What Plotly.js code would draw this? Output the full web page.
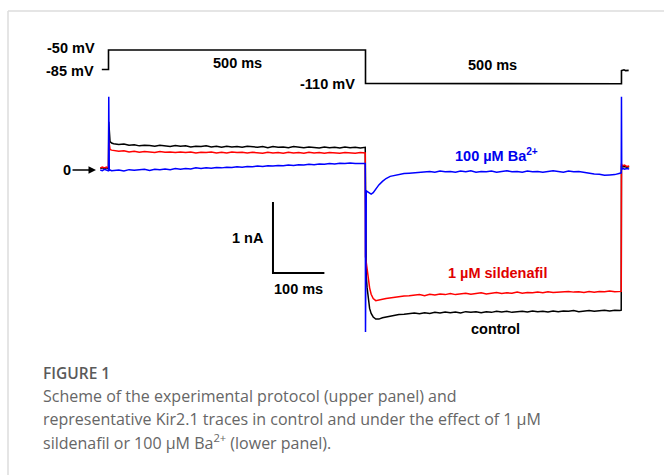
<!DOCTYPE html>
<html>
<head>
<meta charset="utf-8">
<script src="https://cdn.plot.ly/plotly-3.0.1.min.js"></script>
<style>
html,body{margin:0;padding:0;background:#fff;}
#chart{width:664px;height:475px;}
</style>
</head>
<body>
<div id="chart"></div>
<script>
// ---------- DATA ----------
// Common time base for the current traces (ms)
const timeMs = [
  -16, -12, -8, -4, -0.5,
  0, 0.5, 1.5, 3, 6,
  10, 20, 30, 40, 50, 60, 70,
  80, 90, 100, 110, 120, 130, 140,
  150, 160, 170, 180, 190, 200, 210,
  220, 230, 240, 250, 260, 270, 280,
  290, 300, 310, 320, 330, 340, 350,
  360, 370, 380, 390, 400, 410, 420,
  430, 440, 450, 460, 470, 480, 490,
  499.5,
  500, 500.5, 501.5, 503, 505, 508, 511, 515, 520, 526, 533, 540, 548, 556, 565, 575, 585,
  595, 605, 615, 625, 635, 645, 655,
  665, 675, 685, 695, 705, 715, 725,
  735, 745, 755, 765, 775, 785, 795,
  805, 815, 825, 835, 845, 855, 865,
  875, 885, 895, 905, 915, 925, 935,
  945, 955, 965, 975, 985, 995,
  997.5, 998, 998.5, 1001, 1004, 1008, 1013
];
// control current (nA)
const controlNA = [
  0.02, 0.03, 0.02, 0.03, 0.02,
  0.03, 0.68, 0.45, 0.40, 0.38,
  0.37, 0.36, 0.365, 0.35, 0.355, 0.34, 0.35,
  0.345, 0.335, 0.35, 0.34, 0.33, 0.345, 0.335,
  0.34, 0.325, 0.335, 0.33, 0.34, 0.325, 0.335,
  0.32, 0.335, 0.325, 0.33, 0.32, 0.335, 0.325,
  0.32, 0.33, 0.315, 0.33, 0.32, 0.325, 0.315,
  0.33, 0.32, 0.315, 0.325, 0.32, 0.31, 0.325,
  0.315, 0.32, 0.31, 0.325, 0.315, 0.32, 0.31,
  0.32,
  -1.30, -1.38, -1.50, -1.65, -1.80, -1.95, -2.02, -2.07, -2.10, -2.10, -2.08, -2.07, -2.06, -2.045, -2.035, -2.03, -2.02,
  -2.015, -2.025, -2.01, -2.02, -2.005, -2.015, -2.0,
  -2.01, -2.0, -2.015, -1.995, -2.005, -1.995, -2.01,
  -1.995, -2.005, -1.99, -2.0, -1.99, -2.005, -1.995,
  -1.99, -2.0, -1.985, -1.995, -1.99, -2.0, -1.985,
  -1.995, -1.985, -1.99, -1.98, -1.995, -1.985, -1.98,
  -1.99, -1.98, -1.975, -1.985, -1.975, -1.98,
  -1.975, 0.06, 0.05, 0.045, 0.05, 0.04, 0.045
];
// 1 µM sildenafil current (nA)
const sildenafilNA = [
  0.03, 0.04, 0.03, 0.04, 0.03,
  0.04, 0.42, 0.31, 0.29, 0.28,
  0.275, 0.265, 0.27, 0.255, 0.265, 0.25, 0.26,
  0.255, 0.245, 0.26, 0.25, 0.255, 0.245, 0.255,
  0.245, 0.255, 0.24, 0.25, 0.245, 0.255, 0.24,
  0.25, 0.24, 0.255, 0.245, 0.25, 0.24, 0.25,
  0.245, 0.235, 0.25, 0.24, 0.245, 0.235, 0.25,
  0.24, 0.245, 0.235, 0.25, 0.24, 0.245, 0.235,
  0.245, 0.24, 0.235, 0.245, 0.24, 0.235, 0.245,
  0.24,
  -1.22, -1.25, -1.32, -1.42, -1.52, -1.66, -1.75, -1.81, -1.84, -1.835, -1.82, -1.81, -1.80, -1.79, -1.785, -1.775, -1.77,
  -1.765, -1.755, -1.77, -1.75, -1.76, -1.745, -1.755,
  -1.74, -1.755, -1.745, -1.735, -1.75, -1.74, -1.73,
  -1.745, -1.735, -1.725, -1.74, -1.73, -1.735, -1.72,
  -1.735, -1.725, -1.73, -1.72, -1.73, -1.715, -1.725,
  -1.72, -1.725, -1.71, -1.72, -1.715, -1.725, -1.71,
  -1.72, -1.71, -1.715, -1.705, -1.715, -1.705,
  -1.71, 0.09, 0.07, 0.06, 0.07, 0.05, 0.055
];
// 100 µM Ba2+ current (nA)
const bariumNA = [
  0.00, -0.01, 0.01, 0.00, -0.01,
  0.00, 1.03, -0.01, 0.00, -0.01,
  -0.01, 0.00, -0.015, 0.005, -0.005, 0.00, 0.01,
  -0.005, 0.01, 0.005, 0.015, 0.005, 0.02, 0.01,
  0.02, 0.015, 0.03, 0.02, 0.03, 0.025, 0.035,
  0.03, 0.04, 0.035, 0.045, 0.04, 0.05, 0.045,
  0.055, 0.05, 0.06, 0.055, 0.065, 0.06, 0.07,
  0.065, 0.075, 0.07, 0.08, 0.075, 0.085, 0.08,
  0.09, 0.085, 0.095, 0.09, 0.10, 0.09, 0.095,
  0.09,
  -2.28, -0.40, -0.29, -0.30, -0.31, -0.33, -0.34, -0.32, -0.27, -0.21, -0.16, -0.12, -0.09, -0.075, -0.06, -0.05, -0.045,
  -0.04, -0.03, -0.035, -0.02, -0.03, -0.015, -0.025,
  -0.02, -0.03, -0.015, -0.025, -0.01, -0.03, -0.02,
  -0.025, -0.015, -0.03, -0.02, -0.01, -0.025, -0.02,
  -0.03, -0.015, -0.025, -0.02, -0.03, -0.02, -0.01,
  -0.02, -0.03, -0.015, -0.025, -0.02, -0.035, -0.045,
  -0.055, -0.06, -0.075, -0.07, -0.065, -0.045,
  -0.04, 1.03, 0.01, 0.02, 0.01, 0.02, 0.015
];
// Voltage protocol
const protocolMs = [-13, -6, 0, 0, 100, 200, 300, 400, 500, 500, 600, 700, 800, 900, 980, 998, 998, 1001, 1003, 1006, 1012];
const protocolMV = [-85, -85, -85, -50, -50, -50, -50, -50, -50, -110, -110, -110, -110, -110, -110.5, -110.5, -87, -86, -85.5, -87, -86.5];
// Scale bar values
const scaleBarMs = 100;
const scaleBarNA = 1;
// Text
const voltageLabels = ['-50 mV', '-85 mV', '-110 mV'];
const durationLabels = ['500 ms', '500 ms'];
const seriesLabels = ['control', '1 µM sildenafil', '100 µM Ba<sup>2+</sup>'];
const captionTitle = 'FIGURE 1';
const captionLines = [
  'Scheme of the experimental protocol (upper panel) and',
  'representative Kir2.1 traces in control and under the effect of 1 µM',
  'sildenafil or 100 µM Ba<sup>2+</sup> (lower panel).'
];

// ---------- LAYOUT ----------
const W = 664, H = 475;
const pxPerMs = 0.514, t0px = 108.5;          // time axis
const zeroPx = 170, pxPerNA = 71;             // current axis
const vRefPx = 50, pxPerMV = 0.5583;          // voltage axis (-50 mV at vRefPx)
const xRange = [-t0px / pxPerMs, (W - t0px) / pxPerMs];
const yRange = [-(H - zeroPx) / pxPerNA, zeroPx / pxPerNA];
const y2Range = [-50 - (H - vRefPx) / pxPerMV, -50 + vRefPx / pxPerMV];

function P(px, py) { return {x: px / W, y: 1 - py / H}; }
const bold = 'Liberation Sans, Arial, sans-serif';
function lab(text, px, py, color, xanchor, size) {
  const p = P(px, py);
  return {text: '<b>' + text + '</b>', x: p.x, y: p.y, xref: 'paper', yref: 'paper',
    showarrow: false, xanchor: xanchor || 'center', yanchor: 'middle',
    font: {family: bold, size: size || 14.5, color: color || '#000'}};
}
const capFont = 'Open Sans, Noto Sans, sans-serif';
function cap(text, py, opts) {
  const p = P(41, py);
  return Object.assign({text: text, x: p.x, y: p.y, xref: 'paper', yref: 'paper',
    showarrow: false, xanchor: 'left', yanchor: 'middle',
    font: {family: capFont, size: 16, color: '#666'}}, opts || {});
}

const sbT = 320, sbI = -1.45;
const traces = [
  {x: protocolMs, y: protocolMV, yaxis: 'y2', mode: 'lines', line: {color: '#000', width: 1.6}},
  {x: timeMs, y: controlNA, mode: 'lines', line: {color: '#000', width: 1.5}},
  {x: timeMs, y: sildenafilNA, mode: 'lines', line: {color: '#ff0000', width: 1.5}},
  {x: timeMs, y: bariumNA, mode: 'lines', line: {color: '#0000ff', width: 1.5}},
  {x: [sbT, sbT, sbT + scaleBarMs], y: [sbI + scaleBarNA, sbI, sbI], mode: 'lines', line: {color: '#000', width: 2}}
];

const arrowHead = P(96, 170);
const annotations = [
  lab(voltageLabels[0], 97, 48, '#000', 'right'),
  lab(voltageLabels[1], 96, 71, '#000', 'right'),
  lab(voltageLabels[2], 357, 84, '#000', 'right'),
  lab(durationLabels[0], 237, 63),
  lab(durationLabels[1], 492, 65),
  {text: '<b>0</b>', x: arrowHead.x, y: arrowHead.y, xref: 'paper', yref: 'paper', showarrow: true,
    ax: -29, ay: 0, arrowhead: 2, arrowsize: 1, arrowwidth: 1.5, arrowcolor: '#000',
    font: {family: bold, size: 14.5, color: '#000'}},
  lab(seriesLabels[2], 496, 155, '#0000ee'),
  lab(seriesLabels[1], 497, 273, '#e00000'),
  lab(seriesLabels[0], 495, 329, '#000'),
  lab(scaleBarNA + ' nA', 248, 238),
  lab(scaleBarMs + ' ms', 298, 289),
  cap(captionTitle, 373, {font: {family: capFont, size: 15.5, color: '#5a5a5a', weight: 600}}),
  cap(captionLines[0], 396),
  cap(captionLines[1], 419),
  cap(captionLines[2], 442)
];

const layout = {
  width: W, height: H,
  margin: {l: 0, r: 0, t: 0, b: 0},
  paper_bgcolor: '#fff', plot_bgcolor: '#fff',
  showlegend: false,
  xaxis: {range: xRange, visible: false, showgrid: false, zeroline: false, fixedrange: true},
  yaxis: {range: yRange, visible: false, showgrid: false, zeroline: false, fixedrange: true},
  yaxis2: {range: y2Range, overlaying: 'y', visible: false, showgrid: false, zeroline: false, fixedrange: true},
  annotations: annotations,
  shapes: [
    {type: 'line', xref: 'paper', yref: 'paper', x0: 8 / W, x1: 8 / W, y0: 0, y1: 1 - 11 / H, line: {color: '#dcdcdc', width: 1.5}},
    {type: 'line', xref: 'paper', yref: 'paper', x0: 8 / W, x1: 1, y0: 1 - 11 / H, y1: 1 - 11 / H, line: {color: '#dcdcdc', width: 1.5}}
  ]
};

Plotly.newPlot('chart', traces, layout, {staticPlot: true, displayModeBar: false});
</script>
</body>
</html>
